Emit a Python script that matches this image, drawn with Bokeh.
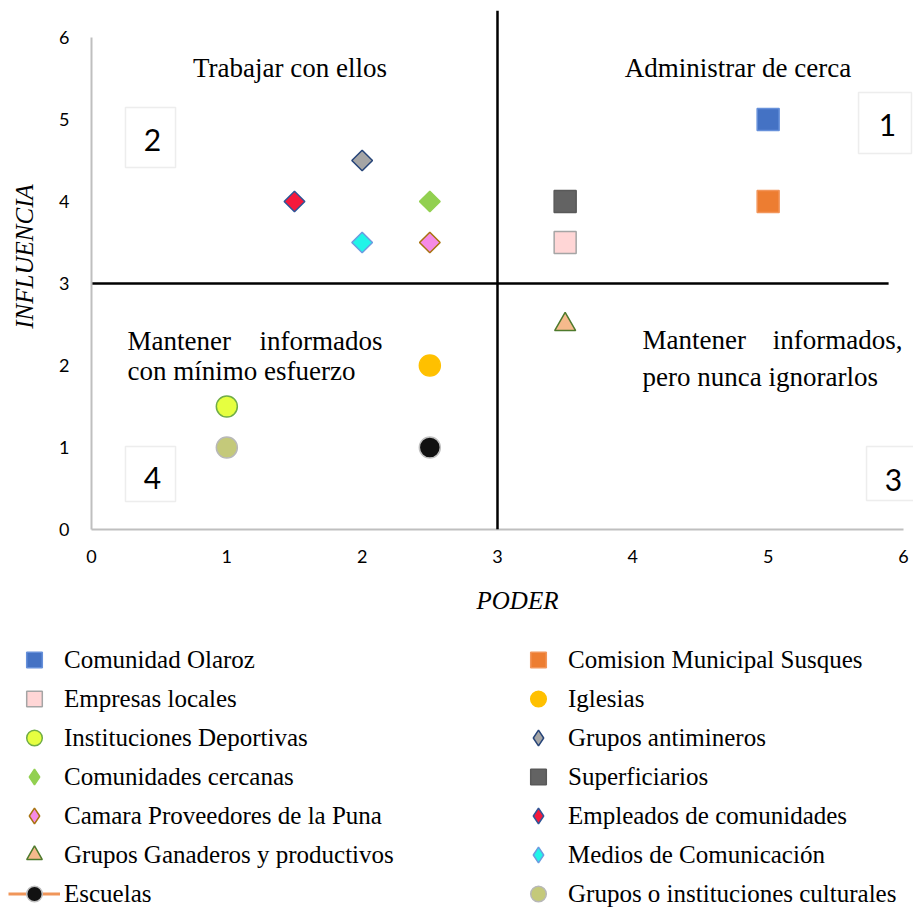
import math
from bokeh.plotting import figure
from bokeh.layouts import column, row
from bokeh.models import (Range1d, FixedTicker, Legend, LegendItem, Label,
                          BoxAnnotation, Span)
from bokeh.embed import file_html
from bokeh.resources import INLINE

# ---------------- data ----------------
names = ["Comunidad Olaroz", "Comision Municipal Susques", "Empresas locales",
         "Iglesias", "Instituciones Deportivas", "Grupos antimineros",
         "Comunidades cercanas", "Superficiarios", "Camara Proveedores de la Puna",
         "Empleados de comunidades", "Grupos Ganaderos y productivos",
         "Medios de Comunicación", "Escuelas", "Grupos o instituciones culturales"]
poder = [5, 5, 3.5, 2.5, 1, 2, 2.5, 3.5, 2.5, 1.5, 3.5, 2, 2.5, 1]
influencia = [5, 4, 3.5, 2, 1.5, 4.5, 4, 4, 3.5, 4, 2.5, 3.5, 1, 1]
shapes = ["square", "square", "square", "circle", "circle", "diamond",
          "diamond", "square", "diamond", "diamond", "triangle", "diamond",
          "circle", "circle"]
fill_colors = ["#4472C4", "#ED7D31", "#FFD6D6", "#FFC000", "#E6FF40", "#A5A5A5",
               "#92D050", "#636363", "#F58BE6", "#F5193C", "#F6BA8C", "#20F5E8",
               "#111111", "#C4C97A"]
line_colors = ["#6690DA", "#F2955A", "#A5A5A5", "#FFC000", "#70AD47", "#264478",
               "#92D050", "#595959", "#A8730F", "#2F5597", "#4E7A2C", "#6C9BE0",
               "#C0C0C0", "#B8B8B8"]
escuelas_line_color = "#F0965A"

tick_values = [0, 1, 2, 3, 4, 5, 6]
mid = 3  # quadrant divider

x_title = "PODER"
y_title = "INFLUENCIA"
quadrant_titles = ["Trabajar con ellos", "Administrar de cerca"]
box_numbers = ["2", "1", "4", "3"]

SERIF = "Liberation Serif"
SANS = "Lato"


def marker_style(shp, legend=False):
    if shp == "diamond":
        if legend:
            return "diamond", 22, 0
        return "square", 14.6, math.pi / 4
    if shp == "square":
        return "square", 22, 0
    if shp == "triangle":
        return "triangle", 21, 0
    return "circle", 21, 0


def blank_fig(w, h):
    f = figure(width=w, height=h, output_backend="svg", toolbar_location=None,
               x_range=Range1d(0, w), y_range=Range1d(h, 0),
               x_axis_type=None, y_axis_type=None,
               min_border_left=0, min_border_right=0, min_border_top=0,
               min_border_bottom=0, background_fill_color="white",
               border_fill_color="white")
    f.frame_align = False
    f.outline_line_color = None
    return f


def lab(fig, text, x, y, align="left", baseline="alphabetic", size="27px",
        style="normal", angle=0.0):
    fig.add_layout(Label(x=x, y=y, text=text, text_font=SERIF,
                         text_font_size=size, text_align=align,
                         text_baseline=baseline, text_font_style=style,
                         angle=angle, text_color="black"))


# ---------------- left strip with the y title ----------------
left = blank_fig(55, 575)
lab(left, y_title, 24, 256, align="center", baseline="middle", size="25px",
    style="italic", angle=math.pi / 2)

# ---------------- chart figure ----------------
p = figure(width=858, height=575, output_backend="svg", toolbar_location=None,
           x_range=Range1d(0, 6.074), y_range=Range1d(0, 6.329),
           min_border_left=36, min_border_right=0, min_border_top=10,
           min_border_bottom=46, background_fill_color="white",
           border_fill_color="white")
p.frame_align = False
p.outline_line_color = None
p.grid.visible = False

for ax in (p.xaxis[0], p.yaxis[0]):
    ax.ticker = FixedTicker(ticks=tick_values)
    ax.bounds = (0, 6)
    ax.axis_line_color = "#BFBFBF"
    ax.axis_line_width = 2
    ax.major_tick_line_color = None
    ax.minor_tick_line_color = None
    ax.major_tick_out = 0
    ax.major_tick_in = 0
    ax.major_label_text_font = SANS
    ax.major_label_text_font_size = "18px"
    ax.major_label_text_color = "black"
p.yaxis[0].major_label_standoff = 22
p.xaxis[0].major_label_standoff = 20

# quadrant dividers
p.add_layout(Span(location=mid, dimension="height", line_color="black",
                  line_width=2.5))
p.segment(x0=[0], y0=[mid], x1=[5.89], y1=[mid], line_color="black",
          line_width=2.5)

# numbered boxes
boxes = [(0.251, 0.621, 5.146, 4.415), (5.668, 6.059, 5.329, 4.585),
         (0.251, 0.621, 1.012, 0.341), (5.727, 6.2, 1.012, 0.354)]
for (l, r, t, b) in boxes:
    p.add_layout(BoxAnnotation(left=l, right=r, top=t, bottom=b,
                               fill_color="white", fill_alpha=1,
                               line_color="#C4C4C4", line_width=1.5))
num_pos = [(0.451, 4.744), (5.882, 4.927), (0.451, 0.622), (5.926, 0.598)]
for txt, (x, y) in zip(box_numbers, num_pos):
    p.add_layout(Label(x=x, y=y, text=txt, text_font=SANS,
                       text_font_size="30px", text_align="center",
                       text_baseline="middle", text_color="black"))

# data points
for i in range(len(names)):
    marker, size, angle = marker_style(shapes[i])
    p.scatter(x=[poder[i]], y=[influencia[i]], marker=marker, size=size,
              angle=angle, fill_color=fill_colors[i],
              line_color=line_colors[i], line_width=1.5)

lab(p, quadrant_titles[0], 1.467, 5.622, align="center")
lab(p, quadrant_titles[1], 4.777, 5.622, align="center")
lab(p, "Mantener", 0.266, 2.293)
lab(p, "informados", 2.150, 2.293, align="right")
lab(p, "con mínimo esfuerzo", 0.266, 1.927)
lab(p, "Mantener", 4.072, 2.305)
lab(p, "informados,", 5.993, 2.305, align="right")
lab(p, "pero nunca ignorarlos", 4.072, 1.854)

# ---------------- bottom: x title + legend ----------------
q = blank_fig(913, 334)
lab(q, x_title, 517, 25, align="center", size="25px", style="italic")

nan = float("nan")
legend_renderers = []
for i in range(len(names)):
    marker, size, angle = marker_style(shapes[i], legend=True)
    r = q.scatter(x=[nan], y=[nan], marker=marker, size=size, angle=angle,
                  fill_color=fill_colors[i], line_color=line_colors[i],
                  line_width=1.5)
    rs = [r]
    if names[i] == "Escuelas":
        ln = q.line(x=[nan], y=[nan], line_color=escuelas_line_color,
                    line_width=3)
        rs = [ln, r]
    legend_renderers.append(rs)


def make_legend(idx, vx):
    items = [LegendItem(label=names[i], renderers=legend_renderers[i]) for i in idx]
    lg = Legend(items=items, location=(vx, -4), orientation="vertical",
                glyph_width=52, glyph_height=39, spacing=0, padding=0,
                margin=0, label_standoff=4, border_line_color=None,
                background_fill_alpha=0, label_text_font=SERIF,
                label_text_font_size="25px", label_text_color="black")
    q.add_layout(lg, "center")


make_legend([0, 2, 4, 6, 8, 10, 12], 8)
make_legend([1, 3, 5, 7, 9, 11, 13], 512)

page = column(row(left, p, spacing=0), q, spacing=0)
open("out.html", "w").write(file_html(page, INLINE))
